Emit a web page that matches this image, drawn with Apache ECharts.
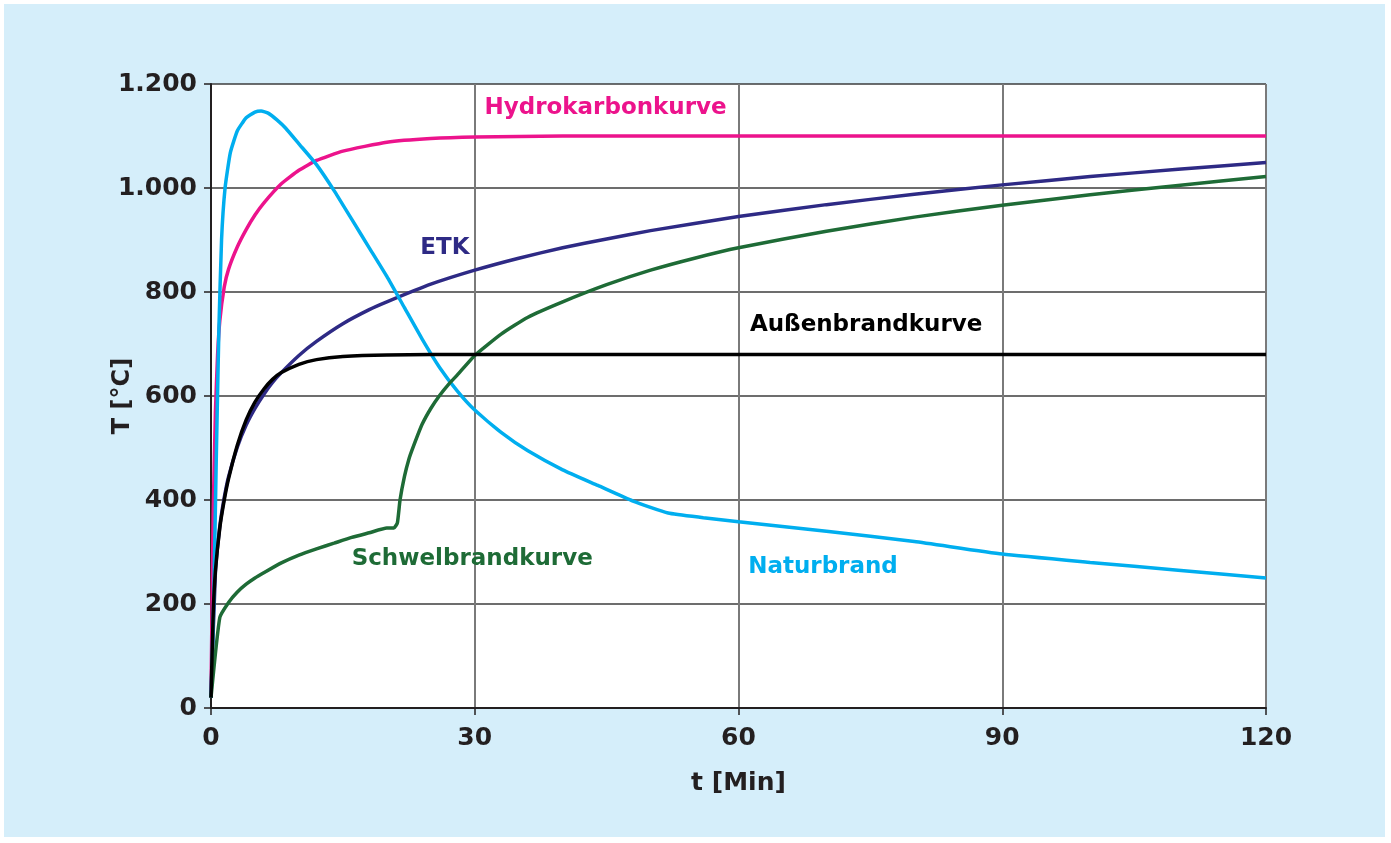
<!DOCTYPE html>
<html lang="de">
<head>
    <meta charset="utf-8">
    <title>Brandkurven</title>
    <script src="https://cdn.jsdelivr.net/npm/echarts@6/dist/echarts.min.js"></script>
    <style>
        html, body { margin: 0; padding: 0; background: #ffffff; }
        #chart { position: absolute; left: 4px; top: 4px; width: 1381px; height: 833px; background: #d5eefa; }
    </style>
</head>
<body>
<div id="chart"></div>

<script>
    // Zeit [Min] / Temperatur [°C]
    var etk = [[0,20],[0.5,261],[1,349],[1.5,404],[2,445],[3,502],[4,544],[5,576],[6,603],[7,626],[8,645],
        [10,678],[12,705],[15,739],[18,766],[20,781],[25,815],[30,842],[35,865],[40,885],[45,902],[50,918],
        [60,945],[70,968],[80,988],[90,1006],[100,1022],[110,1036],[120,1049]];
    var hydrokarbon = [[0,20],[0.25,373],[0.5,568],[0.75,679],[1,744],[1.5,809],[2,844],[3,887],[4,920],[5,948],
        [6,971],[8,1008],[10,1034],[12,1053],[15,1071],[20,1088],[25,1095],[30,1098],[40,1100],[60,1100],[90,1100],[120,1100]];
    var aussenbrand = [[0,20],[0.25,182],[0.5,263],[1,346],[1.5,399],[2,441],[3,506],[4,554],[5,588],[6,613],[7,632],
        [8,645],[10,661],[12,670],[15,676],[20,679],[30,680],[60,680],[90,680],[120,680]];
    var naturbrand = [[0,20],[0.3,200],[0.6,480],[0.9,730],[1.2,900],[1.6,1000],[2.2,1068],[3,1110],[4,1135],[5,1146],
        [5.7,1148],[6.5,1144],[7.5,1131],[8.5,1115],[10,1085],[12,1045],[14,995],[16,940],[18,885],[20,830],[22,770],[24,710],
        [26,655],[28,610],[30,573],[33,530],[36,495],[40,458],[44,428],[48,398],[52,375],[56,366],[60,358],
        [70,340],[80,320],[90,296],[100,280],[110,265],[120,250]];
    var schwelbrand = [[0,20],[1,174],[2,203],[3,223],[4,238],[5,250],[6,260],[8,279],[10,294],[12,306],[14,317],
        [16,328],[18,337],[20,346],[20.8,346],[21.2,356],[21.5,400],[22,445],[22.5,478],[23,502],[24,545],[25,576],
        [26,601],[27,622],[28,640],[30,678],[33,719],[36,751],[40,781],[45,814],[50,842],[55,865],[60,885],
        [70,917],[80,944],[90,967],[100,987],[110,1005],[120,1022]];

    var curveNames = ['ETK', 'Hydrokarbonkurve', 'Außenbrandkurve', 'Naturbrand', 'Schwelbrandkurve'];
    var curveColors = ['#2e2a85', '#ec138c', '#000000', '#00aeef', '#1e6b36'];
    // Beschriftung: [t, T] des linken Textanfangs
    var labelPos = [[23.8,885],[31.1,1154],[61.3,737],[61.1,271],[16.0,287]];

    var xTicks = [0, 30, 60, 90, 120];
    var yTicks = [0, 200, 400, 600, 800, 1000, 1200];

    var font = 'DejaVu Sans';
    var chart = echarts.init(document.getElementById('chart'));

    var series = [];
    [etk, hydrokarbon, aussenbrand, naturbrand, schwelbrand].forEach(function (d, i) {
        series.push({
            name: curveNames[i],
            type: 'line',
            data: d,
            showSymbol: false,
            smooth: 0.15,
            lineStyle: { color: curveColors[i], width: 3.5 },
            z: i === 2 ? 5 : 3
        });
    });
    // Kurvenbeschriftungen
    curveNames.forEach(function (n, i) {
        series.push({
            type: 'scatter',
            data: [labelPos[i]],
            symbolSize: 0,
            silent: true,
            itemStyle: { opacity: 1 },
            label: {
                show: true,
                position: [0, 0],
                align: 'left',
                verticalAlign: 'middle',
                formatter: n,
                color: curveColors[i],
                fontFamily: font,
                fontWeight: 'bold',
                fontSize: 23
            }
        });
    });

    chart.setOption({
        animation: false,
        grid: { left: 207, top: 80, right: 119, bottom: 129, backgroundColor: '#ffffff', show: true, borderWidth: 0 },
        xAxis: {
            type: 'value',
            min: 0, max: 120, interval: 30,
            name: 't [Min]',
            nameLocation: 'middle',
            nameGap: 63,
            nameMoveOverlap: false,
            nameTextStyle: { color: '#231f20', fontFamily: font, fontWeight: 'bold', fontSize: 25 },
            axisLine: { lineStyle: { color: '#231f20', width: 2 } },
            axisTick: { show: true, length: 7, lineStyle: { color: '#231f20', width: 1.5 } },
            axisLabel: {
                margin: 18, color: '#231f20', fontFamily: font, fontWeight: 'bold', fontSize: 25,
                formatter: function (v) { return xTicks.indexOf(v) >= 0 ? String(v) : ''; }
            },
            splitLine: { show: true, lineStyle: { color: '#7a7a7a', width: 2 } }
        },
        yAxis: {
            type: 'value',
            min: 0, max: 1200, interval: 200,
            name: 'T [°C]',
            nameLocation: 'middle',
            nameGap: 76,
            nameRotate: 90,
            nameMoveOverlap: false,
            nameTextStyle: { color: '#231f20', fontFamily: font, fontWeight: 'bold', fontSize: 24 },
            axisLine: { show: true, lineStyle: { color: '#231f20', width: 2 } },
            axisTick: { show: true, length: 7, lineStyle: { color: '#231f20', width: 1.5 } },
            axisLabel: {
                margin: 14, color: '#231f20', fontFamily: font, fontWeight: 'bold', fontSize: 25,
                formatter: function (v) {
                    if (yTicks.indexOf(v) < 0) return '';
                    return v >= 1000 ? Math.floor(v / 1000) + '.' + String(v % 1000).padStart(3, '0') : String(v);
                }
            },
            splitLine: { show: true, lineStyle: { color: '#3c3c3c', width: 1.5 } }
        },
        series: series
    });
</script>
</body>
</html>
